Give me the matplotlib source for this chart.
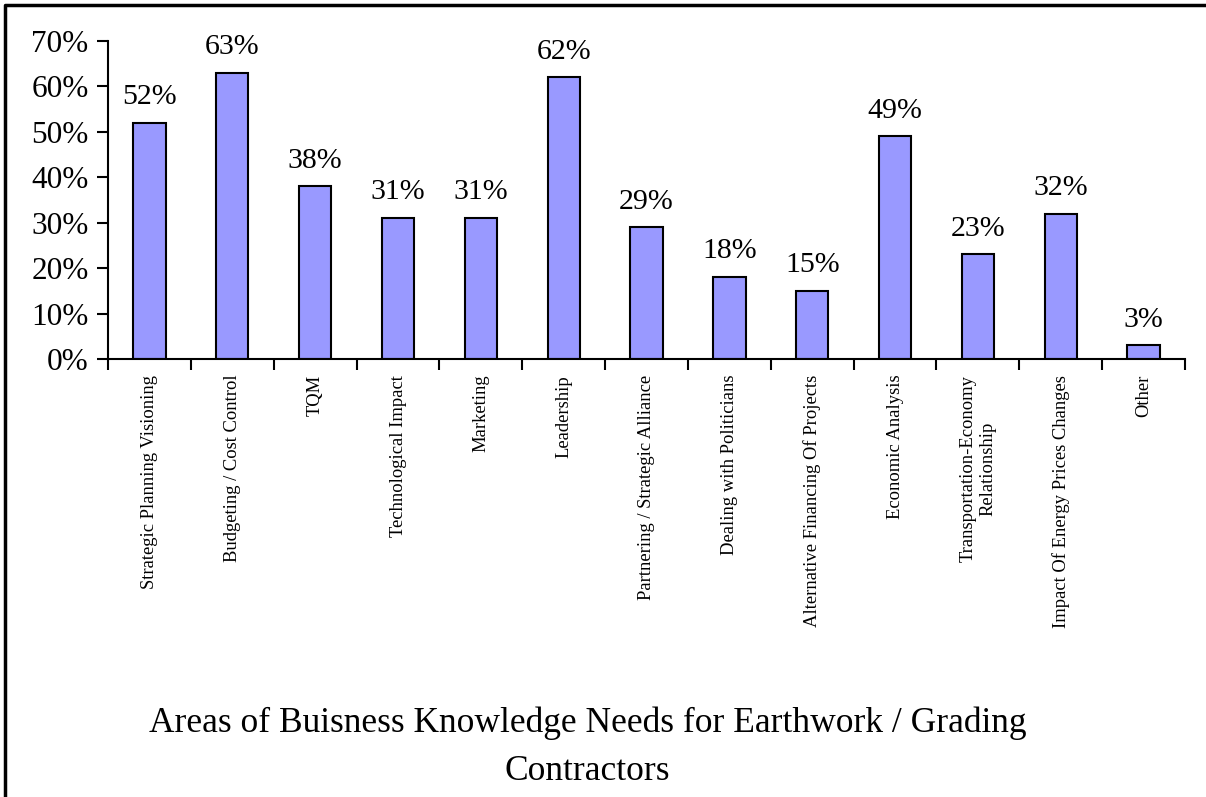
import matplotlib.pyplot as plt
from matplotlib.lines import Line2D

plt.rcParams['font.family'] = ['Liberation Serif', 'DejaVu Serif']

# data
categories = ['Strategic Planning Visioning', 'Budgeting / Cost Control', 'TQM',
              'Technological Impact', 'Marketing', 'Leadership',
              'Partnering / Strategic Alliance', 'Dealing with Politicians',
              'Alternative Financing Of Projects', 'Economic Analysis',
              'Transportation-Economy\nRelationship', 'Impact Of Energy Prices Changes',
              'Other']
values = [52, 63, 38, 31, 31, 62, 29, 18, 15, 49, 23, 32, 3]

fig = plt.figure(figsize=(12.06, 7.97), dpi=100)
ax = fig.add_axes([0.0896, 0.5496, 0.893, 0.399])

x = range(len(values))
ax.bar(x, [v / 100 for v in values], width=0.39, color='#9999FF',
       edgecolor='black', linewidth=1.5)

for i, v in enumerate(values):
    ax.text(i, v / 100 + 0.028, f'{v}%', ha='center', va='bottom', fontsize=21.5)

ax.set_xlim(-0.5, len(values) - 0.5)
ax.set_ylim(0, 0.70)
ax.set_yticks([i / 10 for i in range(8)])
ax.set_yticklabels([f'{i * 10}%' for i in range(8)], fontsize=22.5)
ax.set_xticks([i - 0.5 for i in range(len(values) + 1)])
ax.set_xticklabels([])
ax.tick_params(axis='both', direction='out', length=8, width=1.5)
ax.tick_params(axis='y', pad=6)

for i, c in enumerate(categories):
    ax.text(i, -0.035, c, rotation=90, ha='center', va='top', fontsize=13.4,
            multialignment='center')

for s in ['top', 'right']:
    ax.spines[s].set_visible(False)
for s in ['left', 'bottom']:
    ax.spines[s].set_linewidth(1.5)

fig.text(0.487, 1 - 732 / 797, 'Areas of Buisness Knowledge Needs for Earthwork / Grading',
         ha='center', va='baseline', fontsize=25.5)
fig.text(0.487, 1 - 780 / 797, 'Contractors', ha='center', va='baseline', fontsize=25.5)

# frame lines at the left and top of the figure
fig.add_artist(Line2D([0.004, 0.004, 1.0], [0.0, 0.994, 0.994],
                      transform=fig.transFigure, color='black', linewidth=2.5))

fig.savefig('out.png', dpi=100)
